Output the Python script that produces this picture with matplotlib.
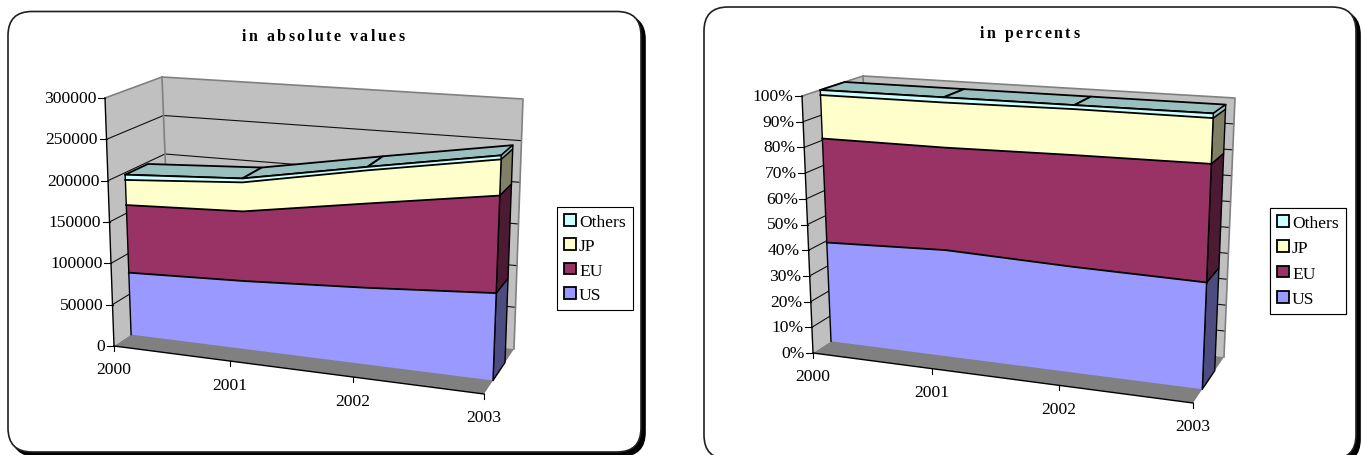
import numpy as np
import matplotlib
matplotlib.use("Agg")
import matplotlib.pyplot as plt
import matplotlib.text as mtext
from matplotlib.font_manager import FontProperties
from matplotlib.patches import FancyBboxPatch, Patch, Polygon
from matplotlib.transforms import IdentityTransform

years = ["2000", "2001", "2002", "2003"]
series_names = ["US", "EU", "JP", "Others"]

abs_us = [76500, 81500, 89000, 98500]
abs_eu = [83500, 83500, 98000, 110000]
abs_jp = [31000, 34800, 38600, 40800]
abs_others = [6500, 4700, 4000, 4500]
abs_ticks = [0, 50000, 100000, 150000, 200000, 250000, 300000]
abs_ticklabels = ["0", "50000", "100000", "150000", "200000", "250000", "300000"]

pct_us = [39.3, 41.0, 39.5, 38.7]
pct_eu = [41.4, 39.6, 41.8, 43]
pct_jp = [17.3, 17.4, 17.2, 16.6]
pct_others = [2, 2, 1.5, 1.7]
pct_ticks = [0, 10, 20, 30, 40, 50, 60, 70, 80, 90, 100]
pct_ticklabels = ["0%", "10%", "20%", "30%", "40%", "50%", "60%", "70%", "80%", "90%", "100%"]

face = ["#9999FF", "#993366", "#FFFFCC", "#CCFFFF"]
side = ["#4C4C80", "#4D1A33", "#808066", "#99BFBF"]
top_face = "#99BFBF"
SERIF = "Liberation Serif"
TICK_PT = 12.6


class SpacedText(mtext.Text):
    """One text whose letters are drawn with extra tracking."""
    def __init__(self, *args, tracking=0.0, **kwargs):
        super().__init__(*args, **kwargs)
        self.tracking = tracking

    def draw(self, renderer):
        fp = self.get_fontproperties()
        s = self.get_text()

        def w(t):
            return renderer.get_text_width_height_descent(t, fp, False)[0]
        adv = [w("n" + c + "n") - w("nn") + self.tracking for c in s]
        x0, y0 = self.get_transform().transform(self.get_position())
        x = x0 - (sum(adv) - self.tracking) / 2
        for c, a in zip(s, adv):
            if c != " ":
                t = mtext.Text(x, y0, c, fontproperties=fp, color=self.get_color(),
                               ha="left", va="baseline", transform=IdentityTransform())
                t.set_figure(self.get_figure())
                t.draw(renderer)
            x += a


def project(c, year_idx, frac, depth):
    """Pseudo-3D mapping of (category, value fraction, depth) to canvas pixels."""
    u = year_idx / 3.0
    u = u / (1 + 0.095 * (1 - u))
    out = np.zeros(2)
    for iu, wu in ((0, 1 - u), (1, u)):
        for iv, wv in ((0, 1 - frac), (1, frac)):
            for id_, wd in ((0, 1 - depth), (1, depth)):
                out += wu * wv * wd * np.array(c[(iu, iv, id_)], float)
    return out


def draw_chart(ax, c, series, ticks, ticklabels, ymax, title, title_xy, tracking, frame, legend_xy, legend_ls):
    # frame with hard shadow
    x0, y0, x1, y1 = frame
    r = 24
    for off, fc, ec, z in ((4, "black", "black", 1), (0, "white", "#202020", 2)):
        ax.add_patch(FancyBboxPatch((x0 + r + off, y0 + r + off), x1 - x0 - 2 * r, y1 - y0 - 2 * r,
                                    boxstyle=f"round,pad={r},rounding_size={r}", fc=fc, ec=ec, lw=1.2, zorder=z))
    t = SpacedText(title_xy[0], title_xy[1], title, tracking=tracking, color="black",
                   fontproperties=FontProperties(family=SERIF, weight="bold", size=11.4),
                   transform=ax.transData, zorder=20)
    ax.add_artist(t)

    P = lambda yi, f, d: project(c, yi, f, d)
    Z = 3
    # walls
    ax.add_patch(Polygon([P(0, 0, 0), P(0, 0, 1), P(0, 1, 1), P(0, 1, 0)], fc="#C0C0C0", ec="none", zorder=Z))
    ax.add_patch(Polygon([P(0, 0, 1), P(3, 0, 1), P(3, 1, 1), P(0, 1, 1)], fc="#C0C0C0", ec="none", zorder=Z))
    # gridlines
    for tv in ticks[1:-1]:
        f = tv / ymax
        pts = np.array([P(0, f, 0), P(0, f, 1), P(3, f, 1)])
        ax.plot(pts[:, 0], pts[:, 1], color="#101010", lw=0.8, zorder=Z + 1)
    # wall outline
    pts = np.array([P(0, 1, 0), P(0, 1, 1), P(3, 1, 1), P(3, 0, 1)])
    ax.plot(pts[:, 0], pts[:, 1], color="#808080", lw=1.2, zorder=Z + 1)
    pts = np.array([P(0, 0, 1), P(0, 1, 1)])
    ax.plot(pts[:, 0], pts[:, 1], color="#808080", lw=1.2, zorder=Z + 1)
    # floor
    ax.add_patch(Polygon([P(0, 0, 0), P(3, 0, 0), P(3, 0, 1), P(0, 0, 1)], fc="#808080", ec="none", zorder=Z + 2))

    # axes
    pts = np.array([P(0, 0, 0), P(0, 1, 0)])
    ax.plot(pts[:, 0], pts[:, 1], color="black", lw=1.0, zorder=Z + 3)
    pts = np.array([P(0, 0, 0), P(3, 0, 0)])
    ax.plot(pts[:, 0], pts[:, 1], color="black", lw=1.0, zorder=Z + 3)
    for tv, lab in zip(ticks, ticklabels):
        p = P(0, tv / ymax, 0)
        ax.plot([p[0] - 7, p[0]], [p[1], p[1]], color="black", lw=0.8, zorder=Z + 3)
        ax.text(p[0] - 8.5, p[1], lab, ha="right", va="center", family=SERIF, fontsize=TICK_PT, color="black", zorder=20)
    for i, lab in enumerate(years):
        p = P(i, 0, 0)
        ax.plot([p[0], p[0]], [p[1], p[1] + 5], color="black", lw=0.8, zorder=Z + 3)
        ax.text(p[0], p[1] + 23.5, lab, ha="center", va="center", family=SERIF, fontsize=TICK_PT, color="black", zorder=20)

    # stacked areas
    D1, D2 = 0.3, 0.7
    n = len(years)
    stack = np.cumsum(np.array(series, float), axis=0) / ymax
    lower = np.vstack([np.zeros(n), stack[:-1]])
    Zs = Z + 4
    # top surface of the stack
    for i in range(n - 1):
        quad = [P(i, stack[-1][i], D1), P(i + 1, stack[-1][i + 1], D1),
                P(i + 1, stack[-1][i + 1], D2), P(i, stack[-1][i], D2)]
        ax.add_patch(Polygon(quad, fc=top_face, ec="black", lw=1.3, joinstyle="round", zorder=Zs))
    # right-hand side faces
    for k in range(len(series)):
        quad = [P(3, lower[k][-1], D1), P(3, stack[k][-1], D1), P(3, stack[k][-1], D2), P(3, lower[k][-1], D2)]
        ax.add_patch(Polygon(quad, fc=side[k], ec="black", lw=1.0, zorder=Zs))
    # front faces
    for k in range(len(series)):
        up = np.array([P(i, stack[k][i], D1) for i in range(n)])
        lo = np.array([P(i, lower[k][i], D1) for i in range(n)])
        ax.fill(np.r_[up[:, 0], lo[::-1, 0]], np.r_[up[:, 1], lo[::-1, 1]], fc=face[k], ec="none", zorder=Zs + 1)
        ax.plot(up[:, 0], up[:, 1], color="black", lw=1.3, zorder=Zs + 2)
        for j in (0, -1):
            ax.plot([up[j, 0], lo[j, 0]], [up[j, 1], lo[j, 1]], color="black", lw=1.0, zorder=Zs + 2)

    # legend (reverse stacking order)
    handles = [Patch(fc=face[k], ec="black", lw=1.3, label=series_names[k]) for k in range(3, -1, -1)]
    leg = ax.legend(handles=handles, loc="upper left", bbox_to_anchor=legend_xy, bbox_transform=ax.transData,
                    prop=FontProperties(family=SERIF, size=TICK_PT), frameon=True, fancybox=False,
                    edgecolor="black", facecolor="white", framealpha=1, handlelength=0.66, handleheight=0.66,
                    handletextpad=0.2, labelspacing=legend_ls, borderpad=0.4, borderaxespad=0, labelcolor="black")
    leg.get_frame().set_linewidth(0.8)
    leg.set_zorder(20)
    ax.add_artist(leg)


fig = plt.figure(figsize=(13.64, 4.56), dpi=100, facecolor="white")
ax = fig.add_axes([0, 0, 1, 1])
ax.set_xlim(0, 1364)
ax.set_ylim(456, 0)
ax.axis("off")

corners_abs = {
    (0, 0, 0): (114, 347), (0, 1, 0): (105, 99), (0, 0, 1): (171, 309), (0, 1, 1): (162, 78),
    (1, 0, 0): (484, 395), (1, 1, 0): (494, 122), (1, 0, 1): (514, 350), (1, 1, 1): (523, 100),
}
corners_pct = {
    (0, 0, 0): (813, 354), (0, 1, 0): (802, 97), (0, 0, 1): (873, 315), (0, 1, 1): (863, 77),
    (1, 0, 0): (1193, 404), (1, 1, 0): (1204, 121), (1, 0, 1): (1224, 358), (1, 1, 1): (1235, 99),
}

draw_chart(ax, corners_abs, [abs_us, abs_eu, abs_jp, abs_others], abs_ticks, abs_ticklabels, 300000,
           "in absolute values", (323, 41), 2.5, (8, 12.5, 641, 453), (557, 208), 0.47)
draw_chart(ax, corners_pct, [pct_us, pct_eu, pct_jp, pct_others], pct_ticks, pct_ticklabels, 100,
           "in percents", (1029.5, 38), 2.5, (704, 8, 1356, 460), (1270, 209), 0.53)

fig.savefig("out.png", dpi=100, facecolor="white")
